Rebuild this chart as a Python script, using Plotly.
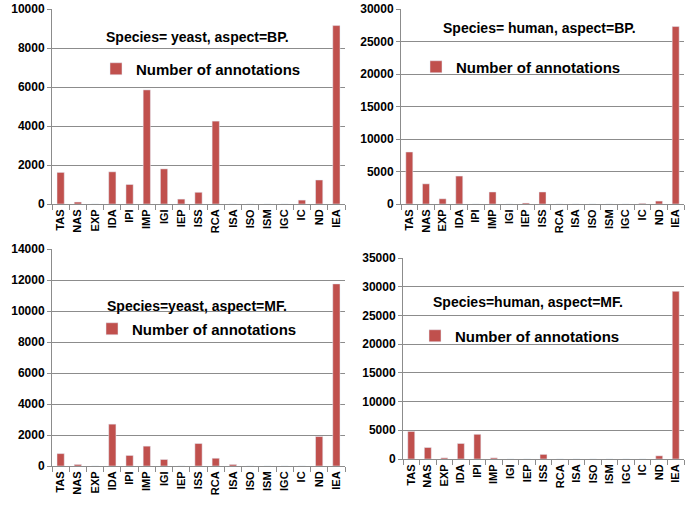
import plotly.graph_objects as go

categories = ["TAS", "NAS", "EXP", "IDA", "IPI", "IMP", "IGI", "IEP", "ISS",
              "RCA", "ISA", "ISO", "ISM", "IGC", "IC", "ND", "IEA"]

yeast_bp = [1620, 100, 0, 1650, 1000, 5850, 1800, 250, 600, 4250, 0, 0, 0, 0, 200, 1230, 9150]
human_bp = [8000, 3100, 800, 4300, 0, 1850, 0, 150, 1850, 0, 0, 0, 0, 0, 100, 450, 27300]
yeast_mf = [800, 100, 0, 2700, 680, 1280, 420, 0, 1450, 500, 100, 0, 0, 0, 0, 1900, 11750]
human_mf = [4800, 2000, 200, 2700, 4300, 200, 0, 0, 800, 0, 0, 0, 0, 0, 0, 550, 29200]

titles = ["Species= yeast, aspect=BP.", "Species= human, aspect=BP.",
          "Species=yeast, aspect=MF.", "Species=human, aspect=MF."]
series_name = "Number of annotations"
y_max = [10000, 30000, 14000, 35000]
y_step = [2000, 5000, 2000, 5000]

W, H = 685, 514
BAR = "#C0504D"
GRID = "#8C8C8C"
FONT = "Liberation Sans"

# pixel boxes: (x0, x1, ytop, ybottom)
boxes = [(52, 345, 9, 204), (401, 684, 9, 204), (52, 345, 249, 466), (403, 684, 258, 459)]
title_pos = [(197, 37), (539, 28), (197, 306), (528, 302)]
legend_pos = [(96, 69), (416, 67), (92, 329), (415, 336)]

data = [yeast_bp, human_bp, yeast_mf, human_mf]
fig = go.Figure()
layout = {}
for i in range(4):
    sfx = "" if i == 0 else str(i + 1)
    lg = "legend" if i == 0 else "legend" + str(i + 1)
    fig.add_trace(go.Bar(
        x=categories, y=data[i], name=series_name, marker_color=BAR,
        xaxis="x" + sfx, yaxis="y" + sfx, legend=lg, showlegend=True,
    ))
    x0, x1, yt, yb = boxes[i]
    layout["xaxis" + sfx] = dict(
        domain=[x0 / W, x1 / W], anchor="y" + sfx, type="category",
        tickangle=-90, tickfont=dict(family=FONT, size=11, color="black", weight="bold"),
        showline=True, linecolor=GRID, linewidth=1,
        ticks="outside", tickson="boundaries", ticklen=5, tickcolor=GRID,
        showgrid=False, automargin=False, range=[-0.5, len(categories) - 0.5],
    )
    layout["yaxis" + sfx] = dict(
        domain=[1 - yb / H, 1 - yt / H], anchor="x" + sfx,
        range=[0, y_max[i]], dtick=y_step[i], tick0=0, tickformat="d",
        tickfont=dict(family=FONT, size=12, color="black", weight="bold"),
        showline=True, linecolor=GRID, linewidth=1,
        ticks="outside", ticklen=4, tickcolor=GRID,
        showgrid=True, gridcolor=GRID, gridwidth=1, zeroline=False,
        automargin=False,
    )
    lx, ly = legend_pos[i]
    layout[lg] = dict(
        x=lx / W, y=1 - ly / H, xanchor="left", yanchor="middle",
        bgcolor="rgba(0,0,0,0)",
        font=dict(family=FONT, size=15, color="black", weight="bold"),
    )

annotations = []
for i in range(4):
    tx, ty = title_pos[i]
    annotations.append(dict(
        text="<b>" + titles[i] + "</b>", x=tx / W, y=1 - ty / H,
        xref="paper", yref="paper", xanchor="center", yanchor="middle",
        showarrow=False, font=dict(family=FONT, size=14, color="black"),
    ))

fig.update_layout(
    width=W, height=H, margin=dict(l=0, r=0, t=0, b=0),
    paper_bgcolor="white", plot_bgcolor="white",
    bargap=0.58, annotations=annotations,
    font=dict(family=FONT, color="black"),
    **layout,
)

fig.write_html("out.html", config={"displayModeBar": False},
               post_script="document.body.style.margin='0';")
